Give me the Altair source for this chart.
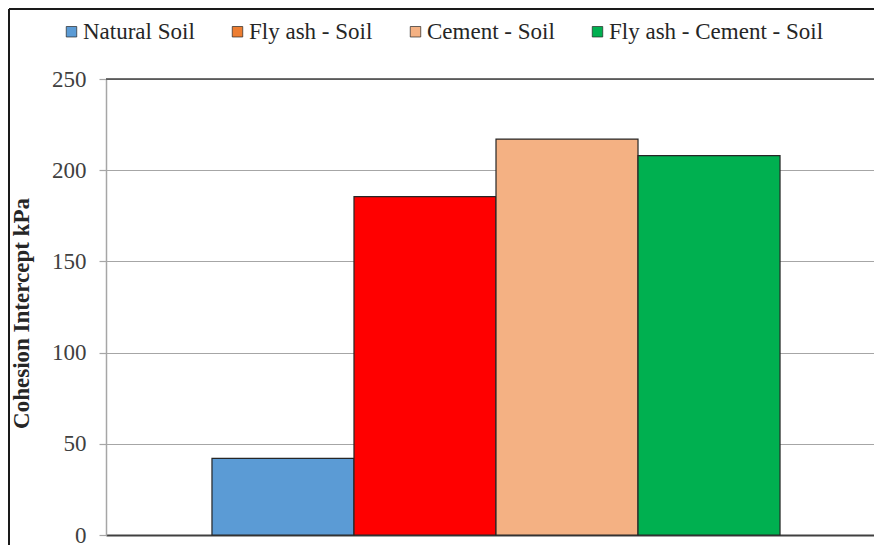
import altair as alt
import pandas as pd

series = ["Natural Soil", "Fly ash - Soil", "Cement - Soil", "Fly ash - Cement - Soil"]
cohesion = [42, 185.5, 217, 208]
legend_colors = ["#5B9BD5", "#ED7D31", "#F4B183", "#00B050"]
bar_colors = ["#5B9BD5", "#FF0000", "#F4B183", "#00B050"]
y_ticks = [0, 50, 100, 150, 200, 250]

df = pd.DataFrame({"series": series, "cohesion": cohesion, "barfill": bar_colors})

W, H = 768, 456
SERIF = "Liberation Serif"

x_enc = alt.X(
    "series:N", sort=series,
    scale=alt.Scale(paddingInner=0, paddingOuter=0.704, align=0.53),
    axis=alt.Axis(labels=False, ticks=False, title=None, grid=False,
                  domainColor="#404040", domainWidth=2),
)
y_enc = alt.Y(
    "cohesion:Q",
    scale=alt.Scale(domain=[0, 250], nice=False),
    axis=alt.Axis(
        values=y_ticks, title="Cohesion Intercept kPa",
        labelFont=SERIF, labelFontSize=23, labelColor="#404040",
        tickColor="#a6a6a6", tickSize=7, tickWidth=1.2, labelPadding=13,
        domainColor="#a6a6a6", domainWidth=1.5,
        grid=True, gridColor="#a6a6a6", gridWidth=1.2,
        titleFont=SERIF, titleFontWeight="bold", titleFontSize=23, titleColor="#262626",
        titleAngle=270, titleX=-73, titleY=H / 2 + 6, titleAlign="center", titleBaseline="bottom",
    ),
)

legend_bars = alt.Chart(df).mark_bar().encode(
    x=x_enc, y=y_enc,
    fill=alt.Fill(
        "series:N", sort=series,
        scale=alt.Scale(domain=series, range=legend_colors),
        legend=alt.Legend(
            title=None, orient="none", direction="horizontal",
            legendX=-46, legendY=-59,
            symbolType="square", symbolSize=110,
            symbolStrokeColor="#404040", symbolStrokeWidth=0.7,
            labelFont=SERIF, labelFontSize=23, labelColor="#262626",
            labelOffset=0, columnPadding=31, labelLimit=400,
        ),
    ),
)

bars = alt.Chart(df).mark_bar(stroke="#262626", strokeWidth=1.2).encode(
    x=x_enc, y=y_enc,
    fill=alt.Fill("barfill:N", scale=None),
)

top_line = alt.Chart(alt.Data(values=[{}])).mark_rule(color="#404040", strokeWidth=1.5).encode(
    y=alt.Y(datum=250)
)

frame_left = alt.Chart(alt.Data(values=[{}])).mark_rule(color="#1a1a1a", strokeWidth=2).encode(
    x=alt.value(-97), y=alt.value(-70), y2=alt.value(H + 10)
)
frame_top = alt.Chart(alt.Data(values=[{}])).mark_rule(color="#1a1a1a", strokeWidth=2).encode(
    x=alt.value(-97), x2=alt.value(W), y=alt.value(-70)
)

chart = alt.layer(legend_bars, bars, top_line, frame_left, frame_top).properties(
    width=W, height=H,
    autosize=alt.AutoSizeParams(type="none"),
    padding={"left": 98, "top": 71, "right": 0, "bottom": 10},
).configure_view(stroke=None)

chart.save("out.html", embed_options={"renderer": "svg", "actions": False})
